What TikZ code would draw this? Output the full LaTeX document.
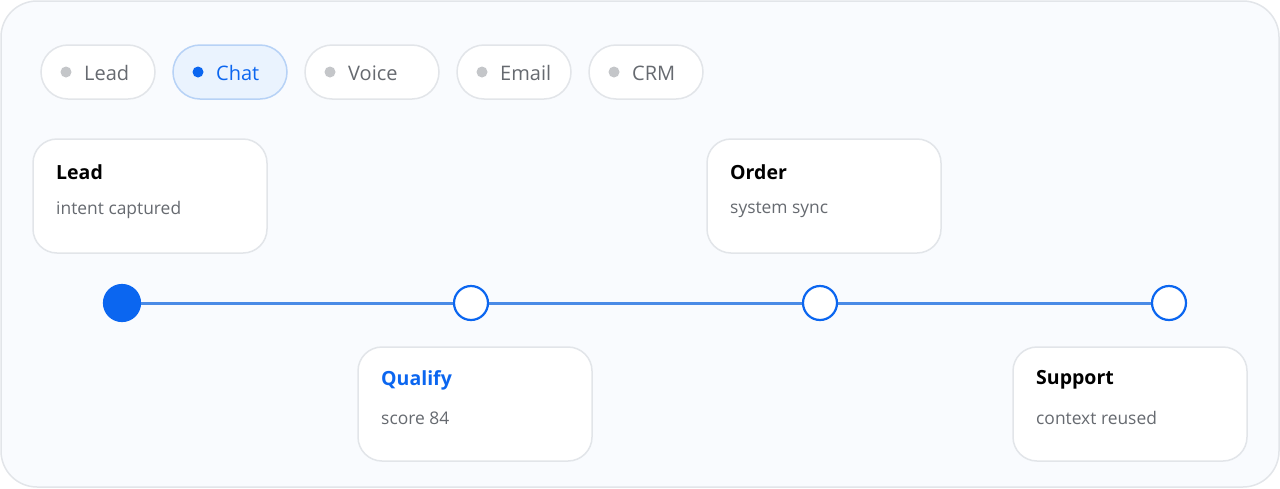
\documentclass[tikz,border=0pt]{standalone}
\usepackage{fontspec}
\setmainfont{Open Sans}
\usetikzlibrary{positioning}

\definecolor{bgpanel}{HTML}{F9FBFE}
\definecolor{edgegray}{HTML}{E2E5E9}
\definecolor{dotgray}{HTML}{C4C6C9}
\definecolor{txtgray}{HTML}{666A70}
\definecolor{flowblue}{HTML}{0B66F0}
\definecolor{linkblue}{HTML}{4A8BE6}
\definecolor{chipfill}{HTML}{EAF3FE}
\definecolor{chipedge}{HTML}{B7D2F6}

\tikzset{
  chip/.style={draw=edgegray, line width=1.5pt, fill=white, rounded corners=27pt, minimum height=54pt, inner sep=0pt},
  card/.style={draw=edgegray, line width=1.5pt, fill=white, rounded corners=24pt, minimum width=234pt, minimum height=114pt, inner sep=0pt},
  cardtitle/.style={anchor=west, inner sep=0pt, font=\fontsize{19.5}{22}\selectfont\bfseries},
  cardsub/.style={anchor=west, inner sep=0pt, text=txtgray, font=\fontsize{17.4}{20}\selectfont},
  chiptext/.style={anchor=west, inner sep=0pt, text=txtgray, font=\fontsize{20}{22}\selectfont},
  stage/.style={circle, draw=flowblue, line width=2.2pt, fill=white, minimum size=34pt, inner sep=0pt}
}

\begin{document}
\begin{tikzpicture}[x=1pt, y=-1pt]

\useasboundingbox (0,0) rectangle (1280,488);
\draw[draw=edgegray, line width=1.5pt, fill=bgpanel, rounded corners=36pt] (1,1) rectangle (1279,487);

% channel chips
\node[chip, minimum width=114pt] (LeadChip) at (98,72) {};
\node[chip, minimum width=114pt, fill=chipfill, draw=chipedge] (ChatChip) at (230,72) {};
\node[chip, minimum width=134pt] (VoiceChip) at (372,72) {};
\node[chip, minimum width=114pt] (EmailChip) at (514,72) {};
\node[chip, minimum width=114pt] (CRMChip) at (646,72) {};

\fill[dotgray] (66,72) circle (5.5pt);
\fill[flowblue] (198,72) circle (5.5pt);
\fill[dotgray] (330,72) circle (5.5pt);
\fill[dotgray] (482,72) circle (5.5pt);
\fill[dotgray] (614,72) circle (5.5pt);

\node[chiptext] (LeadTxt) at (84,73) {Lead};
\node[chiptext, text=flowblue] (ChatTxt) at (216,73) {Chat};
\node[chiptext] (VoiceTxt) at (348,73) {Voice};
\node[chiptext] (EmailTxt) at (500,73) {Email};
\node[chiptext] (CRMTxt) at (632,73) {CRM};

% cards
\node[card] (LeadCard) at (150,196) {};
\node[card] (OrderCard) at (824,196) {};
\node[card] (QualifyCard) at (475,404) {};
\node[card] (SupportCard) at (1130,404) {};

\node[cardtitle] at (56,172) {Lead};
\node[cardsub] at (56,210) {intent captured};
\node[cardtitle] at (730,172) {Order};
\node[cardsub] at (730,210) {system sync};
\node[cardtitle, text=flowblue] at (381,380) {Qualify};
\node[cardsub] at (381,418) {score 84};
\node[cardtitle] at (1036,380) {Support};
\node[cardsub] at (1036,418) {context reused};

% timeline
\node[stage, fill=flowblue, minimum size=36pt] (S1) at (122,303) {};
\node[stage] (S2) at (471,303) {};
\node[stage] (S3) at (820,303) {};
\node[stage] (S4) at (1169,303) {};

\draw[linkblue, line width=3pt] (S1) -- (S2);
\draw[linkblue, line width=3pt] (S2) -- (S3);
\draw[linkblue, line width=3pt] (S3) -- (S4);

\end{tikzpicture}
\end{document}
